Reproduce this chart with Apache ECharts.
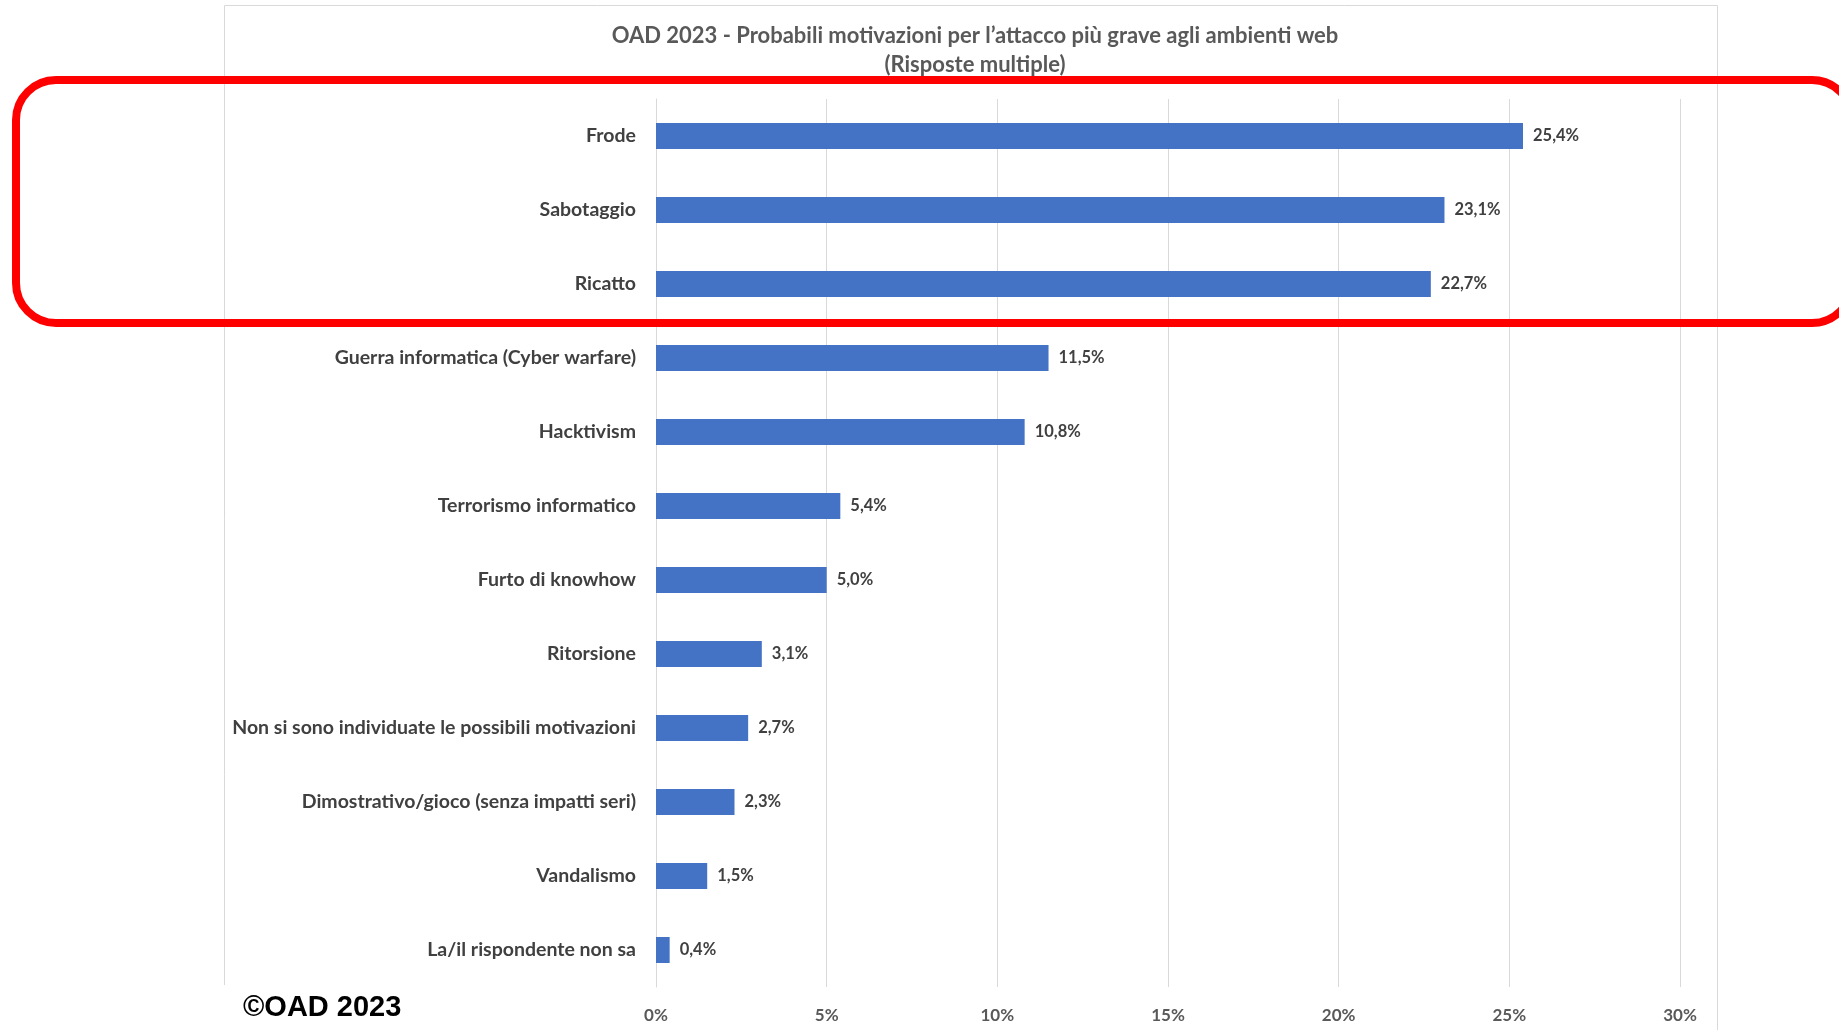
<!DOCTYPE html>
<html>
<head>
<meta charset="utf-8">
<script src="https://cdn.jsdelivr.net/npm/echarts@6/dist/echarts.min.js"></script>
<style>
  html, body { margin: 0; padding: 0; background: #ffffff; }
  #chart { width: 1839px; height: 1030px; }
</style>
</head>
<body>
<div id="chart"></div>
<script>
// Motivazioni (risposte multiple), in percentuale
const categories = [
  'Frode',
  'Sabotaggio',
  'Ricatto',
  'Guerra informatica (Cyber warfare)',
  'Hacktivism',
  'Terrorismo informatico',
  'Furto di knowhow',
  'Ritorsione',
  'Non si sono individuate le possibili motivazioni',
  'Dimostrativo/gioco (senza impatti seri)',
  'Vandalismo',
  'La/il rispondente non sa'
];
const values = [25.4, 23.1, 22.7, 11.5, 10.8, 5.4, 5.0, 3.1, 2.7, 2.3, 1.5, 0.4];
const axisTicks = [0, 5, 10, 15, 20, 25, 30];

const titleLines = [
  'OAD 2023 - Probabili motivazioni per l\u2019attacco più grave agli ambienti web',
  '(Risposte multiple)'
];
const footerText = '\u00A9OAD 2023';

const FONT = 'Lato, "Open Sans", sans-serif';
const fmt = v => v.toFixed(1).replace('.', ',') + '%';

const chart = echarts.init(document.getElementById('chart'), null, { renderer: 'canvas' });

chart.setOption({
  animation: false,
  backgroundColor: '#ffffff',
  title: {
    text: titleLines.join('\n'),
    left: 970,
    top: 16.5,
    textAlign: 'center',
    textStyle: {
      fontFamily: FONT,
      fontWeight: 'bold',
      fontSize: 22,
      lineHeight: 29,
      color: '#595959'
    }
  },
  grid: {
    left: 656,
    right: 159,
    top: 99,
    bottom: 43,
    containLabel: false
  },
  xAxis: {
    type: 'value',
    min: axisTicks[0],
    max: axisTicks[axisTicks.length - 1],
    interval: axisTicks[1] - axisTicks[0],
    axisLine: { show: false },
    axisTick: { show: false },
    splitLine: { show: true, lineStyle: { color: '#d9d9d9', width: 1 } },
    axisLabel: {
      margin: 20,
      fontFamily: FONT,
      fontWeight: 'bold',
      fontSize: 17,
      color: '#595959',
      formatter: v => v + '%'
    }
  },
  yAxis: {
    type: 'category',
    data: categories,
    inverse: true,
    axisLine: { show: true, lineStyle: { color: '#d9d9d9', width: 1 } },
    axisTick: { show: false },
    axisLabel: {
      margin: 20,
      fontFamily: FONT,
      fontWeight: 'bold',
      fontSize: 19.5,
      color: '#404040'
    }
  },
  series: [{
    type: 'bar',
    data: values,
    barWidth: 26,
    itemStyle: { color: '#4472C4' },
    label: {
      show: true,
      position: 'right',
      distance: 10,
      fontFamily: FONT,
      fontWeight: 'bold',
      fontSize: 16.5,
      color: '#404040',
      formatter: p => fmt(p.value)
    }
  }],
  graphic: [
    {
      // chart frame
      type: 'rect',
      z: 0,
      shape: { x: 224.5, y: 5.5, width: 1493, height: 1100 },
      style: { fill: null, stroke: '#d9d9d9', lineWidth: 1 },
      silent: true
    },
    {
      // footer badge background
      type: 'rect',
      z: 10,
      shape: { x: 222, y: 985, width: 188, height: 50 },
      style: { fill: '#ffffff' },
      silent: true
    },
    {
      type: 'text',
      z: 11,
      x: 243,
      y: 1008,
      style: {
        text: footerText,
        fontFamily: '"Liberation Sans", Arial, sans-serif',
        fontWeight: 'bold',
        fontSize: 29,
        fill: '#000000',
        textVerticalAlign: 'middle'
      },
      silent: true
    },
    {
      // highlight around the top three motivations
      type: 'rect',
      z: 20,
      shape: { x: 16, y: 80, width: 1836, height: 243, r: 40 },
      style: { fill: null, stroke: '#ff0000', lineWidth: 8 },
      silent: true
    }
  ]
});
</script>
</body>
</html>
